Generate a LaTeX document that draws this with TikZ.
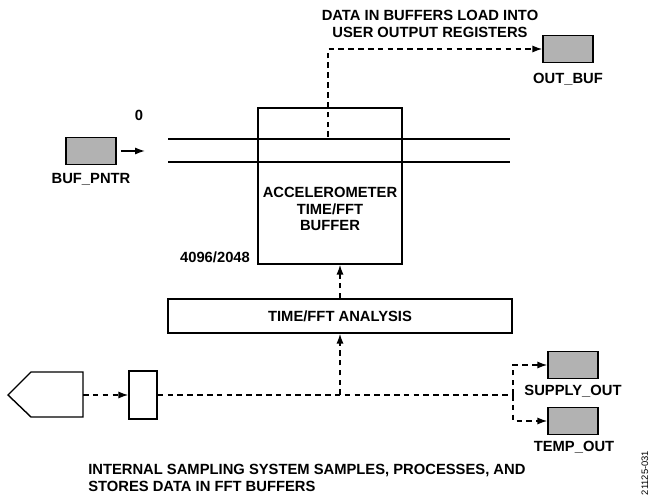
\documentclass[tikz,border=0pt]{standalone}
\usepackage{fontspec}
\setmainfont{Liberation Sans}
\usetikzlibrary{arrows.meta}
\tikzstyle{lbl}=[font=\fontsize{10.5}{12}\selectfont\bfseries, align=center, inner sep=0pt]
\tikzstyle{reg}=[draw, line width=1pt, fill=black!30, minimum width=12.5mm, minimum height=6.75mm, inner sep=0pt]
\tikzstyle{blk}=[draw, line width=1pt, inner sep=0pt]
\tikzstyle{dline}=[line width=1pt, dash pattern=on 4pt off 3pt]
\tikzstyle{flow}=[dline, -{Latex[length=7pt,width=5pt]}]
\tikzstyle{ptr}=[line width=1pt, -{Latex[length=7pt,width=5pt]}]

\begin{document}
\begin{tikzpicture}[x=0.25mm, y=-0.25mm]
\useasboundingbox (0,0) rectangle (652,500);
\draw (430,24) node[lbl] (title) {DATA IN BUFFERS LOAD INTO\\USER OUTPUT REGISTERS};
\draw (568,49) node[reg] (outbuf) {};
\draw (568,79) node[lbl] (outbuflbl) {OUT\_BUF};
\draw (139,115) node[lbl] (zero) {0};
\draw (91,151) node[reg] (bufpntr) {};
\draw (91,179) node[lbl] (bufpntrlbl) {BUF\_PNTR};
\draw (330,186) node[blk, minimum width=36mm, minimum height=39mm] (buf) {};
\draw (330,209) node[lbl] (buflbl) {ACCELEROMETER\\TIME/FFT\\BUFFER};
\draw (215,257) node[lbl] (depth) {4096/2048};
\draw (340,316) node[blk, lbl, minimum width=86mm, minimum height=8.5mm] (fft) {TIME/FFT ANALYSIS};
\draw (143,395) node[blk, minimum width=7mm, minimum height=12mm] (adc) {};
\draw (573,365) node[reg] (supply) {};
\draw (573,391) node[lbl] (supplylbl) {SUPPLY\_OUT};
\draw (573,421) node[reg] (temp) {};
\draw (574,447) node[lbl] (templbl) {TEMP\_OUT};
\draw (88,478) node[lbl, anchor=west, align=left] (note) {INTERNAL SAMPLING SYSTEM SAMPLES, PROCESSES, AND\\STORES DATA IN FFT BUFFERS};
\draw (645,473) node[rotate=90, inner sep=0pt, font=\fontsize{6.7}{8}\selectfont] (fig) {21125-031};

% buffer tracks
\draw[line width=1pt] (168,139) -- (510,139);
\draw[line width=1pt] (168,162) -- (510,162);

% sensor
\draw[line width=1pt] (8,395) -- (31,372) -- (83,372) -- (83,417) -- (31,417) -- cycle;
\coordinate (sens) at (83,395);
\coordinate (tap) at (328,137);
\coordinate (split) at (513,395);
\coordinate (ptrend) at (145,151);

\draw[ptr] ([xshift=3pt]bufpntr.east) -- (ptrend);
\draw[flow] (tap) |- (outbuf.west);
\draw[flow] (fft.north) -- (fft.north |- buf.south);
\draw[flow] (sens) -- (adc.west);
\draw[dline] (adc.east) -- (split);
\draw[flow] (fft.south |- adc.east) -- (fft.south);
\draw[flow] (split) |- (supply.west);
\draw[flow] (split) |- (temp.west);
\end{tikzpicture}
\end{document}
